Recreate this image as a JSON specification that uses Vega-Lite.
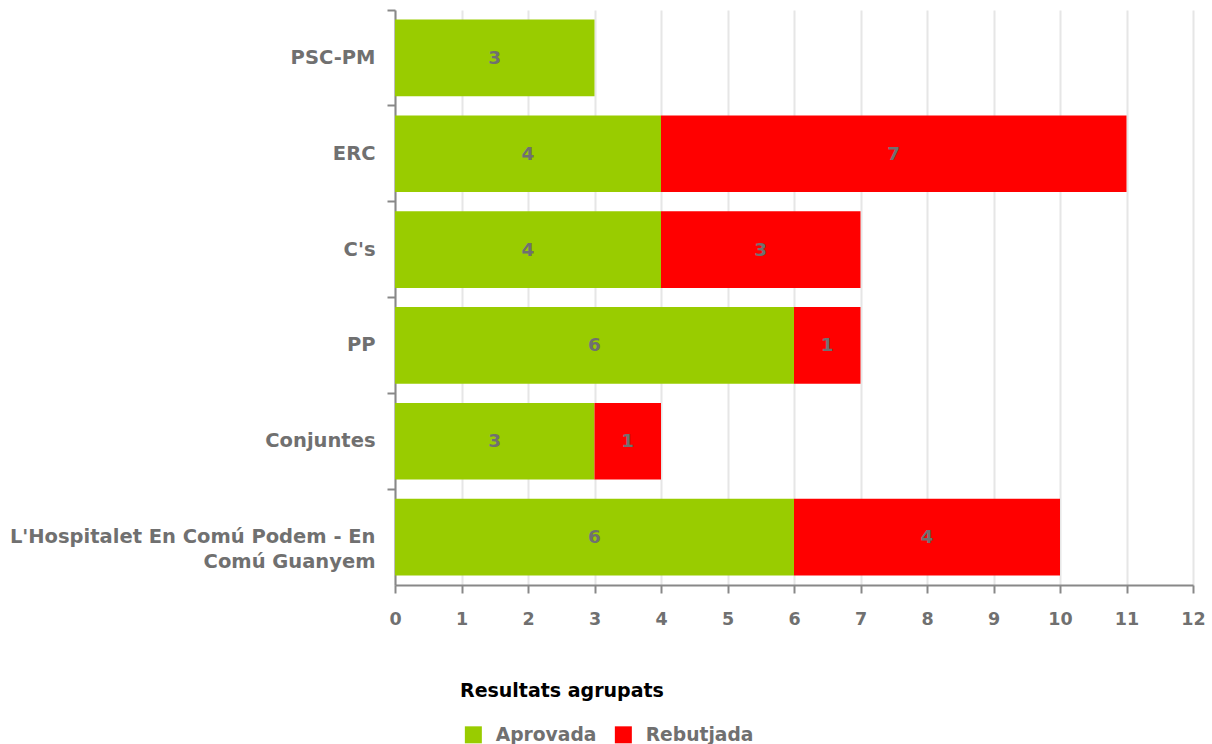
{
  "$schema": "https://vega.github.io/schema/vega-lite/v6.json",
  "width": 798,
  "height": 575,
  "autosize": {"type": "none"},
  "padding": {"left": 395, "top": 10, "right": 19, "bottom": 159},
  "background": "white",
  "config": {
    "font": "DejaVu Sans",
    "view": {"stroke": null},
    "axis": {"labelFont": "DejaVu Sans", "labelFontWeight": "bold", "labelColor": "#707070", "domainColor": "#888888", "tickColor": "#888888", "domainWidth": 2, "tickWidth": 2, "tickSize": 8, "labelLimit": 500}
  },
  "data": {
    "values": [
      {"party": "PSC-PM", "result": "Aprovada", "count": 3},
      {"party": "ERC", "result": "Aprovada", "count": 4},
      {"party": "ERC", "result": "Rebutjada", "count": 7},
      {"party": "C's", "result": "Aprovada", "count": 4},
      {"party": "C's", "result": "Rebutjada", "count": 3},
      {"party": "PP", "result": "Aprovada", "count": 6},
      {"party": "PP", "result": "Rebutjada", "count": 1},
      {"party": "Conjuntes", "result": "Aprovada", "count": 3},
      {"party": "Conjuntes", "result": "Rebutjada", "count": 1},
      {"party": "L'Hospitalet En Comú Podem - En Comú Guanyem", "result": "Aprovada", "count": 6},
      {"party": "L'Hospitalet En Comú Podem - En Comú Guanyem", "result": "Rebutjada", "count": 4}
    ]
  },
  "encoding": {
    "y": {
      "field": "party",
      "type": "nominal",
      "sort": ["PSC-PM", "ERC", "C's", "PP", "Conjuntes", "L'Hospitalet En Comú Podem - En Comú Guanyem"],
      "scale": {"paddingInner": 0.2, "paddingOuter": 0.1},
      "axis": {
        "title": null,
        "labelFontSize": 19.5,
        "labelPadding": 12,
        "labelLineHeight": 25,
        "bandPosition": -0.125,
        "labelExpr": "indexof(datum.label, 'Hospitalet') >= 0 ? [\"L'Hospitalet En Comú Podem - En\", \"Comú Guanyem\"] : datum.label"
      }
    },
    "order": {"field": "result", "sort": "ascending"}
  },
  "layer": [
    {
      "mark": {"type": "bar"},
      "encoding": {
        "x": {
          "field": "count",
          "type": "quantitative",
          "stack": "zero",
          "scale": {"domain": [0, 12], "nice": false},
          "axis": {"title": null, "values": [0,1,2,3,4,5,6,7,8,9,10,11,12], "format": "d", "labelOverlap": false, "labelFlush": false, "labelFontSize": 17.5, "labelPadding": 17, "gridColor": "#e6e6e6", "gridWidth": 2, "grid": true}
        },
        "color": {
          "field": "result",
          "type": "nominal",
          "scale": {"domain": ["Aprovada", "Rebutjada"], "range": ["#99cc00", "#ff0000"]},
          "legend": {
            "title": "Resultats agrupats",
            "orient": "none",
            "legendX": 65,
            "legendY": 672,
            "direction": "horizontal",
            "titleFont": "DejaVu Sans",
            "titleFontSize": 19,
            "titleFontWeight": "bold",
            "titleColor": "#000000",
            "titleLimit": 500,
            "titlePadding": 24,
            "labelFont": "DejaVu Sans",
            "labelFontSize": 18.7,
            "labelFontWeight": "bold",
            "labelColor": "#707070",
            "labelLimit": 300,
            "labelOffset": 13,
            "columnPadding": 13,
            "symbolOffset": 4,
            "symbolType": "square",
            "symbolSize": 289,
            "symbolStrokeWidth": 0,
            "symbolOpacity": 1
          }
        }
      }
    },
    {
      "mark": {"type": "text", "font": "DejaVu Sans", "fontWeight": "bold", "fontSize": 18.5, "color": "#707070", "align": "center", "baseline": "middle"},
      "encoding": {
        "x": {"field": "count", "type": "quantitative", "stack": "zero", "bandPosition": 0.5},
        "detail": {"field": "result", "type": "nominal"},
        "text": {"field": "count", "type": "quantitative"}
      }
    }
  ]
}
